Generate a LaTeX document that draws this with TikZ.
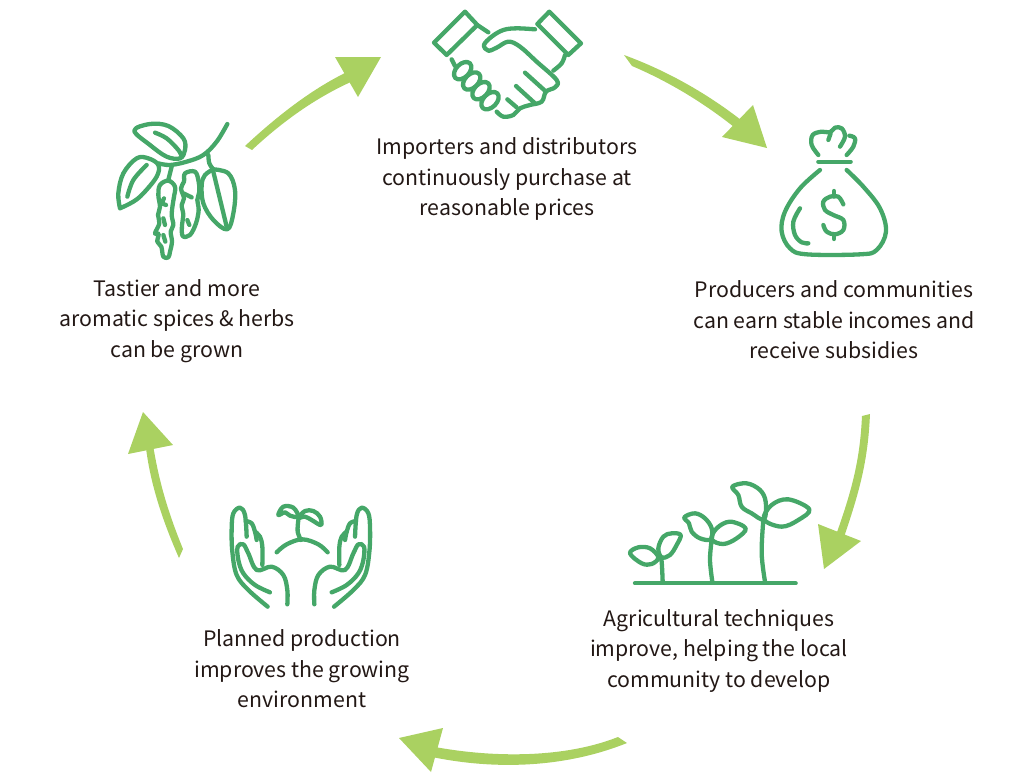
\documentclass[tikz,border=0pt]{standalone}
\usepackage{fontspec}
\setmainfont{Noto Sans CJK JP}
\definecolor{icongreen}{HTML}{45A768}
\definecolor{arrowgreen}{HTML}{AAD161}
\definecolor{inktext}{HTML}{231815}
\newcommand{\sm}[1]{\draw[icon] plot[smooth,tension=.6] coordinates {#1};}
\newcommand{\smc}[1]{\draw[icon] plot[smooth cycle,tension=.6] coordinates {#1};}
\newcommand{\handicon}{%
  \sm{(158,335)(100,285)(65,240)(52,170)(50,100)(55,55)(75,38)(90,60)(95,125)}
  \sm{(92,78)(110,85)(120,110)(125,135)}
  \sm{(120,110)(135,125)(142,155)(142,210)}
  \sm{(165,292)(120,270)(85,235)(70,195)(68,155)(85,148)(100,175)(125,225)(170,215)(205,240)(217,285)(217,328)}
}
\tikzset{
  icon/.style={draw=icongreen,line width=4.3pt,line cap=round,line join=round},
  caption/.style={align=center,text=inktext,font=\fontsize{21.3}{30.5}\selectfont,inner sep=0pt},
  flow/.style={fill=arrowgreen,draw=none},
  zoomed/.style={x=0.33333pt,y=-0.33333pt}
}
\begin{document}
\begin{tikzpicture}[x=1pt,y=-1pt]
\useasboundingbox (0,0) rectangle (1029,779);
% captions
\node[caption] (buy) at (507,179) {Importers and distributors\\continuously purchase at\\reasonable prices};
\node[caption] (income) at (834,320) {Producers and communities\\can earn stable incomes and\\receive subsidies};
\node[caption] (tech) at (719,651) {Agricultural techniques\\improve, helping the local\\community to develop};
\node[caption] (plan) at (302,669) {Planned production\\improves the growing\\environment};
\node[caption] (taste) at (177,321) {Tastier and more\\aromatic spices \& herbs\\can be grown};
% arrows
\coordinate (t1a) at (245,146); \coordinate (t1b) at (252,150);
\coordinate (j1a) at (347,72); \coordinate (j1b) at (353,81);
\fill[flow] (t1a) .. controls (275,118) and (310,90) .. (j1a) -- (j1b) .. controls (315,98) and (282,122) .. (t1b) -- cycle;
\coordinate (h1a) at (335,57); \coordinate (h1b) at (381,57); \coordinate (h1c) at (358,97);
\fill[flow] (h1a) -- (h1b) -- (h1c) -- cycle;
\coordinate (t2a) at (624,55); \coordinate (t2b) at (632,66);
\coordinate (j2a) at (741,120); \coordinate (j2b) at (734,127);
\fill[flow] (t2a) .. controls (665,70) and (705,92) .. (j2a) -- (j2b) .. controls (700,100) and (665,80) .. (t2b) -- cycle;
\coordinate (h2a) at (753,105); \coordinate (h2b) at (767,148); \coordinate (h2c) at (722,137);
\fill[flow] (h2a) -- (h2b) -- (h2c) -- cycle;
\coordinate (t3a) at (862,416); \coordinate (t3b) at (870,414);
\coordinate (j3a) at (836,535); \coordinate (j3b) at (844,537);
\fill[flow] (t3a) .. controls (860,460) and (852,490) .. (j3a) -- (j3b) .. controls (860,490) and (868,460) .. (t3b) -- cycle;
\coordinate (h3a) at (818,524); \coordinate (h3b) at (861,541); \coordinate (h3c) at (824,569);
\fill[flow] (h3a) -- (h3b) -- (h3c) -- cycle;
\coordinate (t4a) at (627,743); \coordinate (t4b) at (618,737);
\coordinate (j4a) at (432,757); \coordinate (j4b) at (435,747);
\fill[flow] (t4a) .. controls (565,768) and (495,770) .. (j4a) -- (j4b) .. controls (495,758) and (565,758) .. (t4b) -- cycle;
\coordinate (h4a) at (443,728); \coordinate (h4b) at (399,738); \coordinate (h4c) at (431,772);
\fill[flow] (h4a) -- (h4b) -- (h4c) -- cycle;
\coordinate (t5a) at (183,549); \coordinate (t5b) at (179,558);
\coordinate (j5a) at (153,445); \coordinate (j5b) at (146,448);
\fill[flow] (t5a) .. controls (165,505) and (158,475) .. (j5a) -- (j5b) .. controls (150,480) and (160,515) .. (t5b) -- cycle;
\coordinate (h5a) at (143,412); \coordinate (h5b) at (173,445); \coordinate (h5c) at (128,454);
\fill[flow] (h5a) -- (h5b) -- (h5c) -- cycle;
% handshake
\begin{scope}[shift={(420,0)},zoomed]
\draw[icon] (135,35) -- (172,75) -- (80,165) -- (42,128) -- cycle;
\draw[icon] (172,75) -- (205,97);
\draw[icon] (388,35) -- (483,130) -- (445,165) -- (352,72) -- cycle;
\sm{(435,165)(425,190)(400,212)}
\sm{(345,88)(290,85)(250,90)(215,110)(192,135)(205,152)(230,143)(265,125)(300,140)(350,185)(410,240)(405,262)(378,275)(365,305)(330,315)(300,325)(280,345)(250,350)(230,335)}
\draw[icon] (315,218) -- (378,275);
\draw[icon] (288,258) -- (345,310);
\draw[icon] (262,298) -- (290,322);
\draw[icon] (95,178) -- (105,198);
\foreach \c in {(128,212),(155,243),(183,272),(210,302)}
  \draw[icon,rotate around={45:\c}] \c ellipse (31 and 20);
\end{scope}
% pepper branch
\begin{scope}[shift={(100,110)},zoomed]
\smc{(103,62)(150,42)(205,48)(250,85)(255,120)(240,145)(200,140)(150,105)}
\sm{(165,68)(200,85)(235,120)(245,140)}
\sm{(382,42)(350,95)(310,135)(260,155)(210,165)(175,160)}
\sm{(60,295)(55,250)(70,190)(110,145)(145,145)(175,165)(170,200)(130,250)(100,275)(60,295)}
\sm{(82,260)(100,210)(140,165)}
\draw[icon] (215,170) -- (205,210);
\sm{(325,135)(328,160)(340,178)}
\sm{(340,178)(385,190)(405,240)(400,310)(382,358)(340,330)(310,280)(305,225)(315,195)(340,178)}
\draw[icon] (340,185) -- (380,350);
\smc{(205,212)(225,230)(222,260)(218,285)(215,315)(220,345)(212,365)(216,395)(210,425)(205,442)(190,440)(184,410)(172,395)(176,372)(165,370)(178,340)(174,315)(180,290)(175,255)(180,225)}
\draw[icon] (192,265) -- (185,280) -- (198,285);
\draw[icon] (190,325) -- (195,345);
\draw[icon] (190,375) -- (196,395);
\smc{(255,190)(285,185)(296,215)(298,245)(292,270)(296,300)(288,340)(270,375)(248,378)(246,345)(250,315)(245,285)(252,265)(243,235)(252,215)}
\draw[icon] (250,250) -- (275,262);
\draw[icon] (262,330) -- (268,345);
\end{scope}
% money bag
\begin{scope}[shift={(760,115)},zoomed]
\draw[icon] (175,140) -- (272,140);
\sm{(175,120)(155,90)(158,60)(185,50)(210,52)(225,38)(245,40)(255,65)(240,95)}
\sm{(205,75)(212,55)}
\sm{(268,62)(285,70)(280,95)(260,120)}
\sm{(180,165)(120,220)(75,290)(65,350)(90,400)(140,418)(300,418)(350,405)(378,350)(360,280)(310,215)(260,165)}
\sm{(120,280)(100,320)(105,360)(125,382)(145,385)}
\sm{(250,268)(235,245)(210,245)(190,260)(195,285)(220,300)(250,315)(250,345)(225,358)(200,350)(190,330)}
\draw[icon] (222,228) -- (222,245);
\draw[icon] (222,358) -- (222,372);
\end{scope}
% seedlings
\begin{scope}[shift={(615,470)},zoomed]
\draw[icon] (60,340) -- (542,340);
\sm{(143,335)(140,275)(135,262)}
\smc{(45,250)(70,232)(105,235)(130,262)(110,282)(80,280)}
\smc{(140,262)(130,235)(145,200)(170,190)(197,195)(185,225)(165,255)}
\sm{(292,335)(285,270)(290,210)}
\smc{(208,142)(240,130)(270,145)(290,175)(288,208)(255,205)(230,185)(222,160)}
\smc{(290,208)(305,175)(345,155)(392,175)(365,205)(325,222)}
\sm{(450,335)(440,250)(445,150)}
\smc{(352,50)(395,40)(435,60)(452,95)(447,148)(410,130)(380,110)(370,75)}
\smc{(447,148)(470,105)(520,88)(583,118)(550,150)(500,170)}
\end{scope}
% hands and sprout
\begin{scope}[shift={(215,495)},zoomed]
\sm{(250,75)(248,110)(258,135)}
\smc{(190,60)(205,35)(235,38)(250,65)(225,62)(210,52)}
\smc{(252,68)(270,48)(295,48)(315,65)(318,90)(290,75)(270,65)}
\sm{(185,172)(215,148)(262,133)(310,148)(338,172)}
\handicon
\end{scope}
\begin{scope}[shift={(386.7,495)},x=-0.33333pt,y=-0.33333pt]
\handicon
\end{scope}
\end{tikzpicture}
\end{document}
